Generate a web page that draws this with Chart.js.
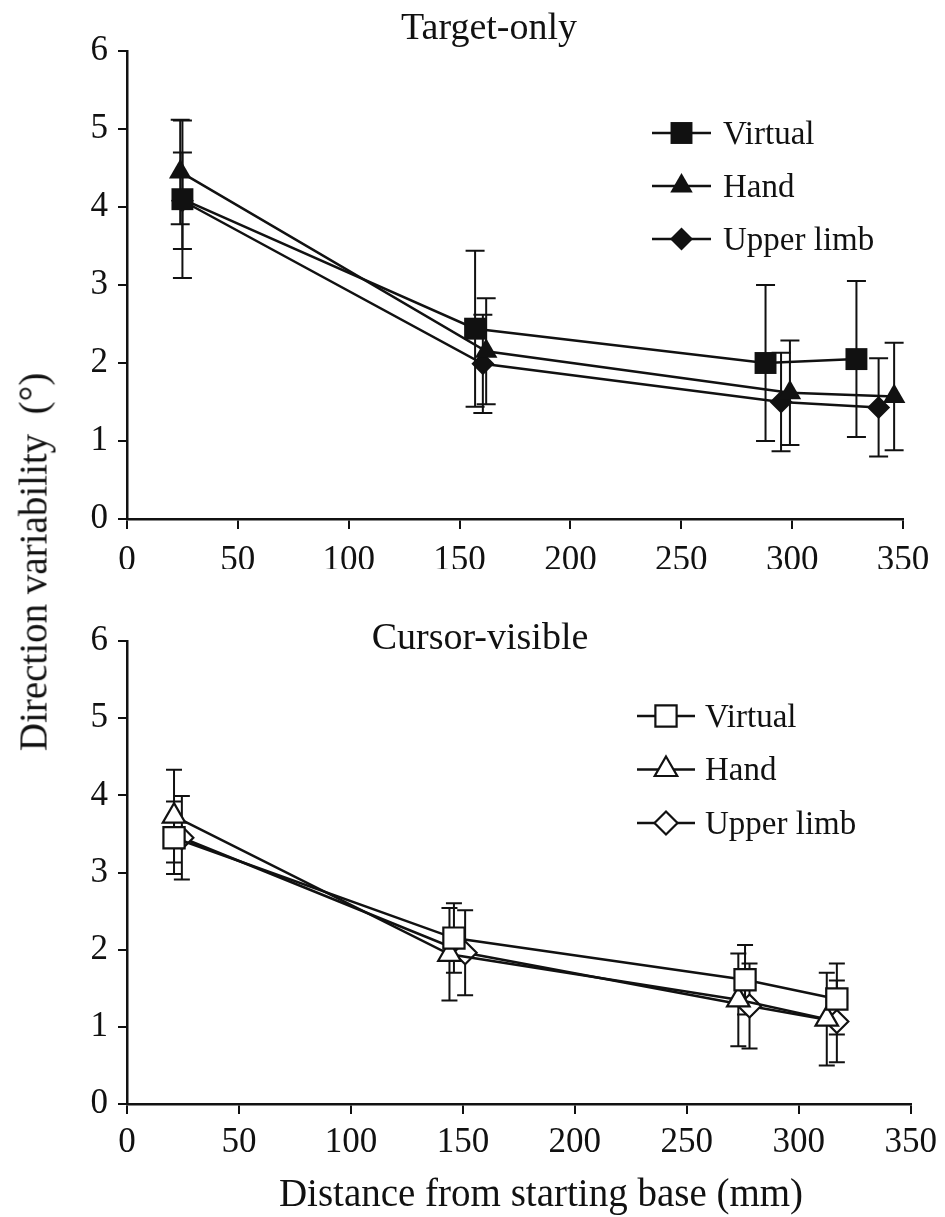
<!DOCTYPE html>
<html>
<head>
<meta charset="utf-8">
<script src="https://cdn.jsdelivr.net/npm/chart.js@4.4.1/dist/chart.umd.min.js"></script>
<style>
  body { margin: 0; background: #fff; }
  #wrap { position: relative; width: 945px; height: 1217px; font-family: "Liberation Serif", "Times New Roman", serif; color: #111; }
  #wrap canvas { position: absolute; left: 0; }
  .lbl { position: absolute; white-space: nowrap; line-height: 1; transform: translate(-50%, -50%); }
  .title { font-size: 38px; }
  #yTitle { font-size: 39px; transform: translate(-50%, -50%) rotate(-90deg); }
  #xTitle { font-size: 39px; }
</style>
</head>
<body>
<div id="wrap">
  <canvas id="topChart" width="945" height="580" style="top:0px"></canvas>
  <canvas id="bottomChart" width="945" height="637" style="top:580px"></canvas>
  <div class="lbl title" style="left:489px; top:26px">Target-only</div>
  <div class="lbl title" style="left:480px; top:636px">Cursor-visible</div>
  <div class="lbl" id="yTitle" style="left:33px; top:562px">Direction variability&nbsp; (°)</div>
  <div class="lbl" id="xTitle" style="left:541px; top:1192px">Distance from starting base (mm)</div>
</div>
<script>
// axis ticks
const xTickValues = [0, 50, 100, 150, 200, 250, 300, 350];
const yTickValues = [0, 1, 2, 3, 4, 5, 6];
const seriesNames = ['Virtual', 'Hand', 'Upper limb'];

// Target-only panel
const topVirtualX = [25, 157, 288, 329];
const topVirtualY = [4.1, 2.44, 2.0, 2.05];
const topVirtualErr = [1.01, 1.0, 1.0, 1.0];
const topHandX = [24, 162, 299, 346];
const topHandY = [4.45, 2.15, 1.62, 1.57];
const topHandErr = [0.67, 0.68, 0.67, 0.69];
const topLimbX = [25, 160.5, 295, 339];
const topLimbY = [4.08, 1.99, 1.5, 1.43];
const topLimbErr = [0.62, 0.63, 0.63, 0.63];

// Cursor-visible panel
const botVirtualX = [21, 146, 276, 317];
const botVirtualY = [3.45, 2.15, 1.61, 1.36];
const botVirtualErr = [0.47, 0.45, 0.45, 0.46];
const botHandX = [21, 144, 273, 312.5];
const botHandY = [3.73, 1.94, 1.35, 1.1];
const botHandErr = [0.6, 0.6, 0.6, 0.6];
const botLimbX = [24.5, 151, 278, 317];
const botLimbY = [3.45, 1.96, 1.27, 1.07];
const botLimbErr = [0.54, 0.55, 0.55, 0.53];

const ink = '#111';
Chart.defaults.font.family = '"Liberation Serif", "Times New Roman", serif';
Chart.defaults.font.size = 35;
Chart.defaults.color = ink;

function toPoints(xs, ys) {
  return xs.map((x, i) => ({ x: x, y: ys[i] }));
}

// vertical error bars with caps, drawn under the markers
const errorBars = {
  id: 'errorBars',
  beforeDatasetsDraw(chart, args, opts) {
    const ctx = chart.ctx;
    const yScale = chart.scales.y;
    ctx.save();
    ctx.strokeStyle = ink;
    ctx.lineWidth = opts.width;
    chart.data.datasets.forEach((ds, i) => {
      const meta = chart.getDatasetMeta(i);
      meta.data.forEach((pt, j) => {
        const v = ds.data[j].y, e = ds.errors[j];
        const top = yScale.getPixelForValue(v + e);
        const bot = yScale.getPixelForValue(v - e);
        ctx.beginPath();
        ctx.moveTo(pt.x, top); ctx.lineTo(pt.x, bot);
        ctx.moveTo(pt.x - opts.cap, top); ctx.lineTo(pt.x + opts.cap, top);
        ctx.moveTo(pt.x - opts.cap, bot); ctx.lineTo(pt.x + opts.cap, bot);
        ctx.stroke();
      });
    });
    ctx.restore();
  }
};

// legend inside the plot: line - marker - line, then the name
const insideLegend = {
  id: 'insideLegend',
  afterDraw(chart, args, opts) {
    const ctx = chart.ctx;
    ctx.save();
    ctx.font = '33px "Liberation Serif", "Times New Roman", serif';
    ctx.textBaseline = 'middle';
    ctx.textAlign = 'left';
    chart.data.datasets.forEach((ds, i) => {
      const y = opts.top + i * opts.gap;
      ctx.strokeStyle = ink;
      ctx.lineWidth = ds.borderWidth;
      ctx.beginPath();
      ctx.moveTo(opts.x0, y);
      ctx.lineTo(opts.x1, y);
      ctx.stroke();
      ctx.fillStyle = ds.pointBackgroundColor;
      ctx.strokeStyle = ink;
      ctx.lineWidth = ds.pointBorderWidth;
      Chart.helpers.drawPoint(ctx, {
        pointStyle: ds.pointStyle,
        radius: ds.pointRadius,
        borderWidth: ds.pointBorderWidth,
        rotation: 0
      }, (opts.x0 + opts.x1) / 2, y);
      ctx.fillStyle = ink;
      ctx.fillText(ds.label, opts.textX, y + 2);
    });
    ctx.restore();
  }
};

function series(label, xs, ys, errs, style, radius, fill) {
  return {
    label: label,
    data: toPoints(xs, ys),
    errors: errs,
    borderColor: ink,
    borderWidth: 2.5,
    pointStyle: style,
    pointRadius: radius,
    pointBackgroundColor: fill,
    pointBorderColor: ink,
    pointBorderWidth: fill === ink ? 0 : 2.2,
    tension: 0,
    fill: false,
    clip: false
  };
}

function makeChart(id, datasets, pad, legendPos, cap, tickPad) {
  return new Chart(document.getElementById(id), {
    type: 'line',
    data: { datasets: datasets },
    plugins: [errorBars, insideLegend],
    options: {
      responsive: false,
      animation: false,
      events: [],
      layout: { padding: pad },
      scales: {
        x: {
          type: 'linear',
          min: 0,
          max: 350,
          afterBuildTicks: s => { s.ticks = xTickValues.map(v => ({ value: v })); },
          afterFit: s => { s.height = 50; },
          grid: { drawOnChartArea: false, drawTicks: true, tickLength: 10, color: ink, lineWidth: 2 },
          border: { display: true, color: ink, width: 2.5 },
          ticks: { autoSkip: false, maxRotation: 0, padding: tickPad, color: ink }
        },
        y: {
          min: 0,
          max: 6,
          afterBuildTicks: s => { s.ticks = yTickValues.map(v => ({ value: v })); },
          afterFit: s => { s.width = 127; },
          grid: { drawOnChartArea: false, drawTicks: true, tickLength: 9, color: ink, lineWidth: 2 },
          border: { display: true, color: ink, width: 2.5 },
          ticks: { padding: 10, color: ink }
        }
      },
      plugins: {
        legend: { display: false },
        tooltip: { enabled: false },
        errorBars: { cap: cap, width: 2 },
        insideLegend: legendPos
      }
    }
  });
}

makeChart('topChart', [
  series(seriesNames[0], topVirtualX, topVirtualY, topVirtualErr, 'rect', 15.5, ink),
  series(seriesNames[1], topHandX, topHandY, topHandErr, 'triangle', 13, ink),
  series(seriesNames[2], topLimbX, topLimbY, topLimbErr, 'rectRot', 11.5, ink)
], { top: 51, right: 42, bottom: 11, left: 0 },
   { x0: 652, x1: 711, textX: 723, top: 133, gap: 53 }, 9.5, 11);

makeChart('bottomChart', [
  series(seriesNames[0], botVirtualX, botVirtualY, botVirtualErr, 'rect', 15, '#fff'),
  series(seriesNames[1], botHandX, botHandY, botHandErr, 'triangle', 13, '#fff'),
  series(seriesNames[2], botLimbX, botLimbY, botLimbErr, 'rectRot', 11.5, '#fff')
], { top: 61, right: 33, bottom: 63, left: 0 },
   { x0: 637, x1: 695, textX: 705, top: 136, gap: 53.5 }, 8, 8);
</script>
</body>
</html>
